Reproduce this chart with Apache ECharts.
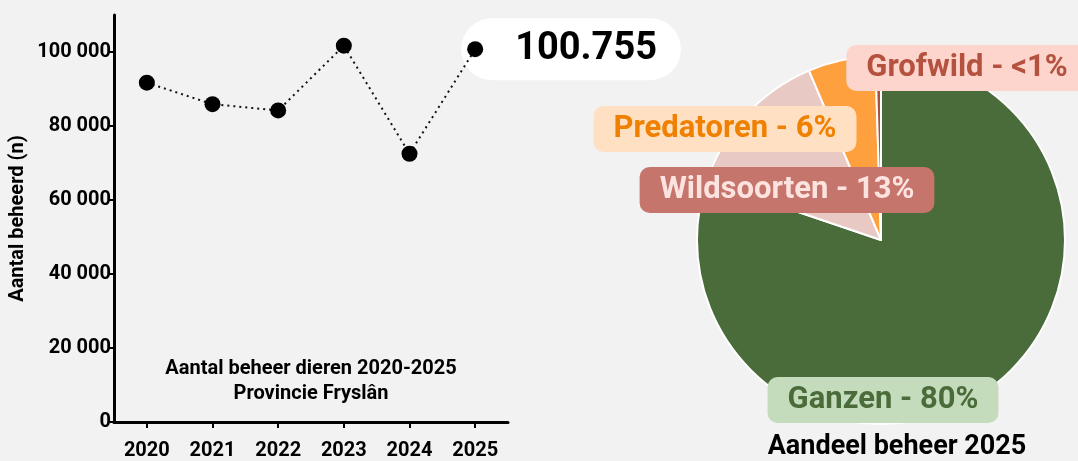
<!DOCTYPE html>
<html>
<head>
<meta charset="utf-8">
<script src="https://cdn.jsdelivr.net/npm/echarts@6/dist/echarts.min.js"></script>
<style>
html,body{margin:0;padding:0;background:#f2f2f2;}
#c{width:1078px;height:461px;}
</style>
</head>
<body>
<div id="c"></div>
<script>
// ---- data ----
const years = ['2020','2021','2022','2023','2024','2025'];
const beheer = [91700, 85900, 84200, 101700, 72500, 100755];
const yTicks = [0, 20000, 40000, 60000, 80000, 100000];
const pieNames = ['Ganzen','Wildsoorten','Predatoren','Grofwild'];
const pieValues = [80.2, 13.4, 5.9, 0.5];
const pieLabels = ['80%','13%','6%','<1%'];
const lineTitle = ['Aantal beheer dieren 2020-2025','Provincie Fryslân'];
const pieTitle = 'Aandeel beheer 2025';

// ---- styles ----
const FONT = 'Roboto, "Noto Sans", sans-serif';
const sliceColors = ['#4a6b3a','#e8c9c4','#ffa03e','#b04e3d'];
const labelBg = ['#c5dcbc','#c5756b','#ffe0c2','#fdd5cc'];
const labelFg = ['#4a6b3a','#fde3df','#f08000','#b5513f'];
const labelPos = [[883,400],[787,190],[725,129],[967,68]];

function spaceThousands(v){ return String(v).replace(/\B(?=(\d{3})+(?!\d))/g,' '); }
function dotThousands(v){ return String(v).replace(/\B(?=(\d{3})+(?!\d))/g,'.'); }

const chart = echarts.init(document.getElementById('c'), null, {renderer:'canvas'});

const option = {
  backgroundColor: '#f2f2f2',
  animation: false,
  grid: {left: 114, top: 15, bottom: 38, width: 394, containLabel: false},
  xAxis: {
    type: 'category',
    data: years,
    boundaryGap: true,
    axisLine: {lineStyle: {color: '#000', width: 3}},
    axisTick: {show: true, alignWithLabel: true, length: 6, lineStyle: {color: '#000', width: 2}},
    axisLabel: {color: '#000', fontFamily: FONT, fontWeight: 'bold', fontSize: 20, margin: 19}
  },
  yAxis: {
    type: 'value',
    min: 0, max: 110000, interval: 20000,
    name: 'Aantal beheerd (n)',
    nameLocation: 'middle',
    nameGap: 86,
    nameTextStyle: {color: '#000', fontFamily: FONT, fontWeight: 'bold', fontSize: 20},
    splitLine: {show: false},
    axisLine: {show: true, lineStyle: {color: '#000', width: 3}},
    axisTick: {show: true, length: 6, lineStyle: {color: '#000', width: 2}},
    axisLabel: {
      color: '#000', fontFamily: FONT, fontWeight: 'bold', fontSize: 20, margin: 3,
      showMaxLabel: false,
      formatter: v => yTicks.indexOf(v) >= 0 ? spaceThousands(v) : ''
    }
  },
  series: [
    {
      type: 'line',
      z: 3,
      data: beheer,
      symbol: 'circle',
      symbolSize: 16,
      itemStyle: {color: '#000'},
      lineStyle: {type: [2, 4], width: 2, color: '#111'},
      label: {show: false},
      emphasis: {disabled: true}
    },
    {
      type: 'pie',
      center: [881, 240],
      radius: [0, 184],
      startAngle: 90,
      clockwise: true,
      avoidLabelOverlap: false,
      data: pieNames.map((n,i) => ({
        name: n,
        value: pieValues[i],
        itemStyle: {color: sliceColors[i]},
        label: {backgroundColor: labelBg[i], color: labelFg[i]}
      })),
      itemStyle: {borderColor: '#ffffff', borderWidth: 2},
      label: {
        show: true,
        formatter: p => p.name + ' - ' + pieLabels[p.dataIndex],
        fontFamily: FONT,
        fontWeight: 'bold',
        fontSize: 31,
        lineHeight: 34,
        padding: [6, 20],
        borderRadius: 10
      },
      labelLine: {show: false},
      labelLayout: function(params){
        const p = labelPos[params.dataIndex];
        return {x: p[0], y: p[1], align: 'center', verticalAlign: 'middle'};
      },
      emphasis: {disabled: true}
    }
  ]
};
chart.setOption(option);

// callout for the last value, placed through the axis scales, drawn below the series
const lastIdx = beheer.length - 1;
const pt = chart.convertToPixel({seriesIndex: 0}, [lastIdx, beheer[lastIdx]]);
chart.setOption({
  graphic: [
    {
      id: 'lineTitle',
      type: 'text',
      z: 1,
      style: {
        text: lineTitle.join('\n'),
        x: 311, y: 381,
        align: 'center', verticalAlign: 'middle',
        fontFamily: FONT, fontWeight: 'bold', fontSize: 20,
        lineHeight: 25,
        fill: '#000'
      }
    },
    {
      id: 'pieTitle',
      type: 'text',
      z: 1,
      style: {
        text: pieTitle,
        x: 897, y: 447,
        align: 'center', verticalAlign: 'middle',
        fontFamily: FONT, fontWeight: 'bold', fontSize: 27,
        fill: '#000'
      }
    },
    {
      id: 'callout',
      type: 'text',
      z: 1,
      x: pt[0] - 14,
      y: pt[1],
      style: {
        text: dotThousands(beheer[lastIdx]),
        fontFamily: FONT, fontWeight: 'bold', fontSize: 38,
        fill: '#000',
        align: 'left',
        verticalAlign: 'middle',
        backgroundColor: '#ffffff',
        borderRadius: 31,
        padding: [9, 24, 9, 54],
        lineHeight: 44
      }
    }
  ]
});
</script>
</body>
</html>
